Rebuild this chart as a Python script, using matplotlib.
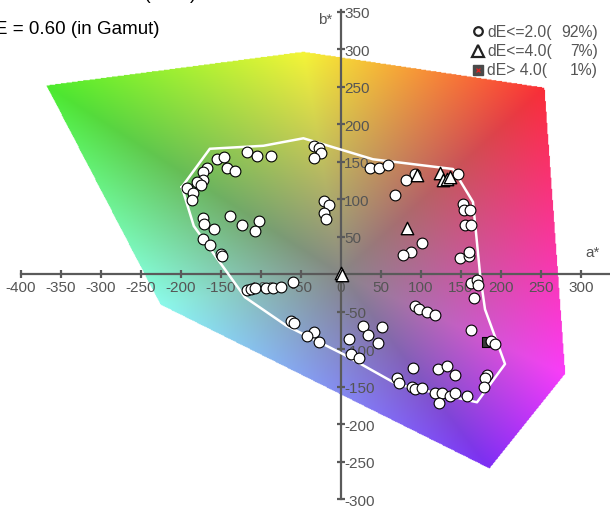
import numpy as np
import matplotlib
matplotlib.use('Agg')
import matplotlib.pyplot as plt

plt.rcParams['font.family'] = ['Liberation Sans', 'DejaVu Sans']

# colour gamut polygon (a*, b*) and its vertex colours
gamut_a = [-369, -47, 255, 281, 186, -226]
gamut_b = [252, 297, 249, -133, -260, -41]
gamut_rgb = [(75, 235, 45), (245, 245, 55), (250, 45, 55),
             (250, 60, 250), (125, 45, 245), (140, 250, 235)]
center_rgb = (135, 135, 135)

# reference gamut outline
outline_a = [-199, -164, -97, -47, 40, 140, 165, 174, 180, 205, 170, 70, 3, -68, -120, -184, -199]
outline_b = [116, 167, 171, 181, 153, 140, 96, -2, -47, -120, -171, -147, -107, -69, -31, 64, 116]

# dE <= 2.0
circle_a = [-118, -105, -88, -155, -146, -142, -132, -167, -172, -172, -180, -175, -192, -185,
            -186, -173, -171, -159, -172, -164, -150, -149, -139, -124, -103, -108,
            -34, -28, -25, -34, -21, -15, -21, -19,
            -118, -112, -107, -94, -85, -75, -60,
            36, 47, 59, 92, 81, 67, 146, 152, 154, 161, 155, 162, 101, 88, 77,
            149, 160, 160, 163, 170, 171, 166,
            -62, -59, -34, -42, -28, 10, 27, 34, 51, 46, 13, 23, 92, 97, 108, 118,
            162, 187, 192, 90, 121, 133, 143, 70, 72, 89, 93, 101, 117, 126, 136,
            143, 157, 123, 182, 180, 179]
circle_b = [163, 158, 157, 153, 156, 141, 138, 141, 136, 126, 123, 119, 115, 108,
            99, 75, 67, 60, 47, 39, 27, 24, 78, 66, 71, 57,
            171, 168, 162, 155, 98, 92, 82, 73,
            -21, -20, -19, -19, -18, -17, -11,
            142, 141, 145, 134, 125, 105, 133, 94, 85, 85, 65, 66, 41, 30, 25,
            21, 24, 29, -12, -8, -15, -32,
            -62, -65, -77, -82, -90, -86, -69, -81, -71, -92, -107, -112, -42, -47, -51, -55,
            -75, -89, -93, -125, -126, -123, -135, -138, -145, -150, -153, -152, -158, -159, -162,
            -159, -162, -172, -134, -138, -150]

# dE <= 4.0
tri_a = [95, 124, 128, 132, 136, 82, 0, 1]
tri_b = [132, 135, 126, 127, 129, 61, 2, -1]

# dE > 4.0
sq_a = [182]
sq_b = [-90]

legend_labels = ['dE<=2.0(', 'dE<=4.0(', 'dE> 4.0(']
legend_pcts = ['92%)', '7%)', '1%)']

x_ticks = np.arange(-400, 301, 50)
y_ticks = np.arange(-300, 351, 50)

xmin, xmax = -426.25, 336.25
ymin, ymax = -313.3, 366.7
grey = '#5a5a5a'


def fan_image():
    xs = np.linspace(xmin, xmax, 763)
    ys = np.linspace(ymin, ymax, 680)
    X, Y = np.meshgrid(xs, ys)
    img = np.ones(X.shape + (4,))
    img[..., 3] = 0
    c0 = np.array(center_rgb) / 255.0
    n = len(gamut_a)
    for i in range(n):
        x1, y1 = gamut_a[i], gamut_b[i]
        x2, y2 = gamut_a[(i + 1) % n], gamut_b[(i + 1) % n]
        det = x1 * y2 - x2 * y1
        w1 = (X * y2 - Y * x2) / det
        w2 = (x1 * Y - y1 * X) / det
        w0 = 1 - w1 - w2
        inside = (w0 >= 0) & (w1 >= -1e-9) & (w2 >= -1e-9)
        c1 = np.array(gamut_rgb[i]) / 255.0
        c2 = np.array(gamut_rgb[(i + 1) % n]) / 255.0
        col = w0[..., None] * c0 + w1[..., None] * c1 + w2[..., None] * c2
        img[inside, :3] = np.clip(col[inside], 0, 1)
        img[inside, 3] = 1
    return img


fig = plt.figure(figsize=(6.1, 5.1), dpi=100)
ax = fig.add_axes([0, 0, 1, 1])
ax.imshow(fan_image(), extent=(xmin, xmax, ymin, ymax), origin='lower',
          aspect='auto', zorder=0, interpolation='bilinear')
ax.set_xlim(xmin, xmax)
ax.set_ylim(ymin, ymax)

ax.spines['top'].set_visible(False)
ax.spines['left'].set_visible(False)
ax.spines['bottom'].set_position(('data', 0))
ax.spines['right'].set_position(('data', 0))
ax.spines['bottom'].set_bounds(-400, xmax)
ax.spines['right'].set_bounds(-300, 352)
for s in ['bottom', 'right']:
    ax.spines[s].set_color(grey)
    ax.spines[s].set_linewidth(1.6)
ax.xaxis.set_ticks_position('bottom')
ax.yaxis.set_ticks_position('right')
ax.set_xticks(x_ticks)
ax.set_xticklabels([str(v) for v in x_ticks])
ax.set_yticks(y_ticks)
ax.set_yticklabels(['' if v == 0 else str(v) for v in y_ticks])
ax.tick_params(direction='inout', length=5.5, width=1.6, color=grey,
               labelcolor='#555555', labelsize=11)
ax.tick_params(axis='x', pad=1.2)
ax.tick_params(axis='y', pad=-0.6)

ax.text(315, 29, 'a*', color='#555555', fontsize=11, ha='center', va='center')
ax.text(-20, 340, 'b*', color='#555555', fontsize=11, ha='center', va='center')

ax.plot(outline_a, outline_b, color='white', lw=1.8, zorder=3)
ax.scatter(sq_a, sq_b, s=52, marker='s', facecolor='#3a3a3a', edgecolor='black', lw=0.8, zorder=3.5)
ax.scatter(circle_a, circle_b, s=60, facecolor='white', edgecolor='black', lw=0.8, zorder=4)
ax.scatter(tri_a, tri_b, s=80, marker='^', facecolor='white', edgecolor='black', lw=1.0, zorder=5)

# titles, clipped at the left/top edge as in the source chart
fig.text(196 / 610, 1 + 1 / 510, 'Maximum dE = 4.36 (Total)', ha='right', va='baseline',
         fontsize=13.5, color='black')
fig.text(160 / 610, 1 - 30 / 510, 'Average dE = 0.60 (in Gamut)', ha='right', va='center',
         fontsize=13.5, color='black')

# legend
leg_y = [32, 51.5, 71]
mx = 478 / 610
ax.plot(mx, 1 - leg_y[0] / 510, 'o', ms=6.2, mfc='white', mec='#222222', mew=1.6,
        transform=ax.transAxes, clip_on=False, zorder=7)
ax.plot(mx, 1 - leg_y[1] / 510, '^', ms=8, mfc='white', mec='#222222', mew=1.6,
        transform=ax.transAxes, clip_on=False, zorder=7)
ax.plot(mx, 1 - leg_y[2] / 510, 's', ms=7, mfc='#4a4a4a', mec='#4a4a4a', mew=1,
        transform=ax.transAxes, clip_on=False, zorder=7)
ax.plot(mx, 1 - leg_y[2] / 510, 'x', ms=3.5, mec='#dd2222', mew=0.9,
        transform=ax.transAxes, clip_on=False, zorder=8)
for yy, lab, pct in zip(leg_y, legend_labels, legend_pcts):
    fig.text(487 / 610, 1 - yy / 510, lab, ha='left', va='center', fontsize=11.3, color='#555555')
    fig.text(598 / 610, 1 - yy / 510, pct, ha='right', va='center', fontsize=11.3, color='#555555')

fig.savefig('out.png', dpi=100)
